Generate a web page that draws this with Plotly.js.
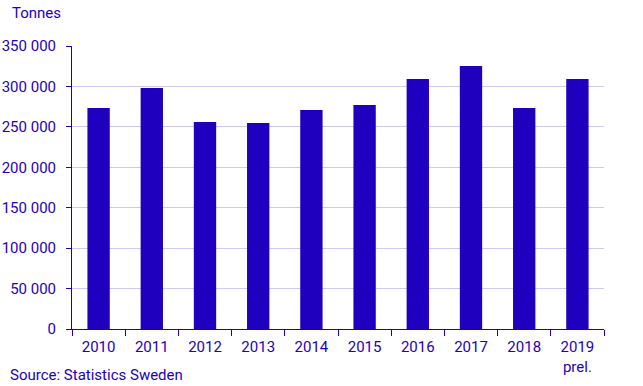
<!DOCTYPE html>
<html><head><meta charset="utf-8">
<script src="https://cdn.plot.ly/plotly-3.0.1.min.js"></script>
<style>html,body{margin:0;padding:0;background:#fff;}#chart{width:643px;height:386px;}</style>
</head><body><div id="chart"></div>
<script>
const categories = ["2010","2011","2012","2013","2014","2015","2016","2017","2018","2019<br>prel."];
const values = [273300, 298000, 256000, 254800, 270800, 277000, 309200, 325300, 273300, 309200];
const yTicks = [0, 50000, 100000, 150000, 200000, 250000, 300000, 350000];

const blue = "#1e00be";
const font = {family: "Roboto, Arial, sans-serif", size: 15, color: blue};

Plotly.newPlot("chart", [{
  type: "bar", x: categories, y: values,
  marker: {color: blue}, width: 0.42,
  hoverinfo: "x+y"
}], {
  width: 643, height: 386,
  margin: {l: 72, r: 39, t: 46, b: 57},
  paper_bgcolor: "#fff", plot_bgcolor: "#fff",
  font: font,
  separators: ". ",
  showlegend: false,
  xaxis: {
    type: "category", tickson: "boundaries", ticks: "outside", ticklen: 6,
    tickcolor: blue, showline: true, linecolor: blue, linewidth: 1,
    ticklabelstandoff: 4,
    showgrid: false, tickfont: font, fixedrange: true
  },
  yaxis: {
    range: [0, 350000], tickvals: yTicks, tickformat: ",d",
    ticks: "outside", ticklen: 5, tickcolor: blue, ticklabelstandoff: 7,
    showline: true, linecolor: blue, linewidth: 1,
    gridcolor: "#cfc8f0", gridwidth: 1, zeroline: false,
    tickfont: font, fixedrange: true
  },
  annotations: [
    {text: "Tonnes", xref: "paper", yref: "paper", x: -62/532, y: 1, xanchor: "left", yanchor: "middle", yshift: 33, showarrow: false, font: font},
    {text: "Source: Statistics Sweden", xref: "paper", yref: "paper", x: -64/532, y: 0, xanchor: "left", yanchor: "middle", yshift: -46, showarrow: false, font: font}
  ]
}, {displayModeBar: false, staticPlot: true});
</script></body></html>
